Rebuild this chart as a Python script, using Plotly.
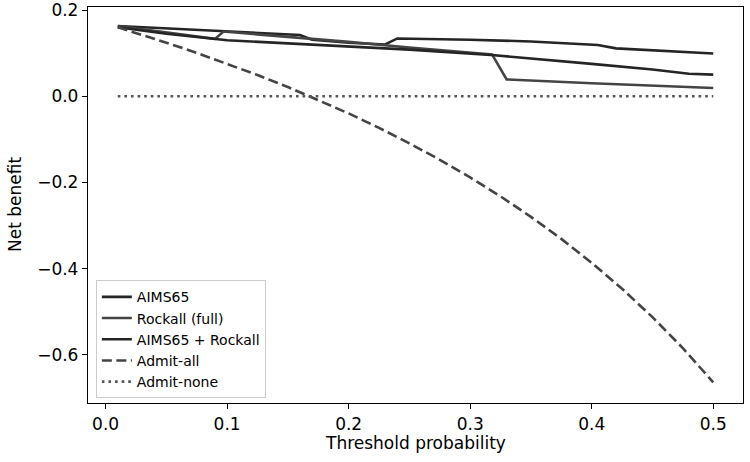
import plotly.graph_objects as go

# Threshold probabilities and net benefit values
aims_x = [0.01, 0.05, 0.10, 0.16, 0.17, 0.20, 0.23, 0.24, 0.30, 0.35, 0.405, 0.42, 0.50]
aims_y = [0.163, 0.157, 0.150, 0.142, 0.131, 0.124, 0.120, 0.134, 0.131, 0.127, 0.119, 0.111, 0.099]

rock_x = [0.01, 0.05, 0.09, 0.097, 0.16, 0.20, 0.25, 0.318, 0.33, 0.40, 0.50]
rock_y = [0.163, 0.148, 0.133, 0.150, 0.136, 0.126, 0.113, 0.097, 0.039, 0.030, 0.019]

comb_x = [0.01, 0.05, 0.10, 0.15, 0.20, 0.25, 0.32, 0.35, 0.40, 0.45, 0.48, 0.50]
comb_y = [0.160, 0.145, 0.130, 0.123, 0.116, 0.108, 0.095, 0.088, 0.075, 0.062, 0.052, 0.050]

all_x = [0.01, 0.025, 0.05, 0.075, 0.10, 0.125, 0.15, 0.175, 0.20, 0.225, 0.25,
         0.275, 0.30, 0.325, 0.35, 0.375, 0.40, 0.425, 0.45, 0.475, 0.50]
all_y = [0.160, 0.1467, 0.1242, 0.1005, 0.0756, 0.0491, 0.0212, -0.0085, -0.040, -0.0735, -0.1093,
         -0.1476, -0.1886, -0.2326, -0.280, -0.3312, -0.3867, -0.447, -0.5127, -0.5847, -0.664]

none_x = [0.01, 0.50]
none_y = [0.0, 0.0]

xticks = [0.0, 0.1, 0.2, 0.3, 0.4, 0.5]
xticklabels = ["0.0", "0.1", "0.2", "0.3", "0.4", "0.5"]
yticks = [0.2, 0.0, -0.2, -0.4, -0.6]
yticklabels = ["0.2", "0.0", "\u22120.2", "\u22120.4", "\u22120.6"]

fig = go.Figure()
fig.add_trace(go.Scatter(x=aims_x, y=aims_y, mode="lines", name="AIMS65",
                         line=dict(color="#252525", width=2.6)))
fig.add_trace(go.Scatter(x=rock_x, y=rock_y, mode="lines", name="Rockall (full)",
                         line=dict(color="#444444", width=2.6)))
fig.add_trace(go.Scatter(x=comb_x, y=comb_y, mode="lines", name="AIMS65 + Rockall",
                         line=dict(color="#252525", width=2.6)))
fig.add_trace(go.Scatter(x=all_x, y=all_y, mode="lines", name="Admit-all",
                         line=dict(color="#444444", width=2.6, dash="10px,4.5px")))
fig.add_trace(go.Scatter(x=none_x, y=none_y, mode="lines", name="Admit-none",
                         line=dict(color="#555555", width=2.6, dash="2.6px,4px")))

axis_common = dict(showline=True, linecolor="black", linewidth=1.3, mirror=True,
                   ticks="outside", ticklen=5, tickwidth=1.2, tickcolor="black",
                   showgrid=False, zeroline=False, ticklabeloverflow="allow",
                   automargin=False,
                   tickfont=dict(family="DejaVu Sans", size=17, color="black"))

fig.update_layout(
    width=750, height=462,
    margin=dict(l=88, r=7, t=7, b=59),
    paper_bgcolor="white", plot_bgcolor="white",
    font=dict(family="DejaVu Sans", color="black"),
    xaxis=dict(range=[-0.0145, 0.5245], tickvals=xticks, ticktext=xticklabels,
               **axis_common),
    yaxis=dict(range=[-0.712, 0.207], tickvals=yticks, ticktext=yticklabels,
               **axis_common),
    legend=dict(x=0.012, y=0.012, xanchor="left", yanchor="bottom",
                bgcolor="rgba(255,255,255,0.8)", bordercolor="#cccccc", borderwidth=1,
                font=dict(family="DejaVu Sans", size=14, color="black"),
                itemwidth=30, tracegroupgap=0),
    showlegend=True,
    annotations=[
        dict(text="Threshold probability", xref="paper", yref="paper",
             x=0.5, y=-40 / 396, xanchor="center", yanchor="middle",
             showarrow=False, font=dict(family="DejaVu Sans", size=17, color="black")),
        dict(text="Net benefit", xref="paper", yref="paper",
             x=-73 / 655, y=0.5, xanchor="center", yanchor="middle", textangle=-90,
             showarrow=False, font=dict(family="DejaVu Sans", size=17, color="black")),
    ],
)

fig.write_html("out.html")
